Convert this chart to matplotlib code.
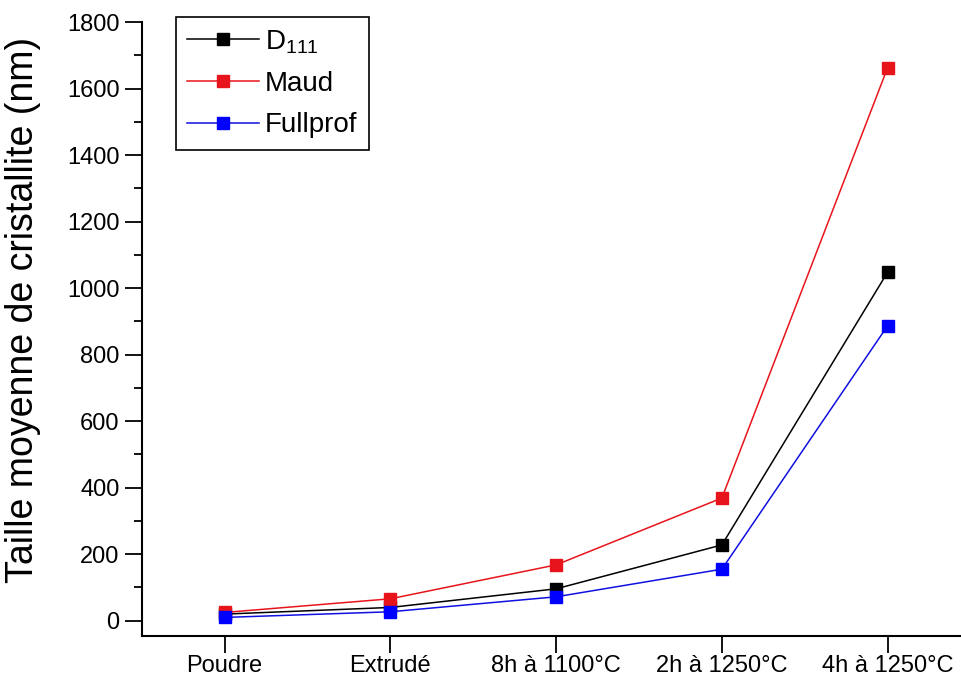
import numpy as np
import matplotlib
matplotlib.use("Agg")
import matplotlib.pyplot as plt

plt.rcParams['font.family'] = ['Liberation Sans', 'DejaVu Sans']
plt.rcParams['mathtext.fontset'] = 'custom'
plt.rcParams['mathtext.rm'] = 'Liberation Sans'

categories = ['Poudre', 'Extrudé', '8h à 1100°C', '2h à 1250°C', '4h à 1250°C']
d111 = [20, 40, 96, 228, 1048]
maud = [25, 66, 168, 369, 1663]
fullprof = [10, 27, 72, 155, 887]

fig = plt.figure(figsize=(9.61, 6.81), dpi=100)
ax = fig.add_axes([0.1475, 0.066, 0.8624, 0.9016])

X = np.arange(len(categories))
ax.plot(X, d111, color='black', lw=1.1, marker='s', ms=8.5, label='D$_{111}$')
ax.plot(X, maud, color='#e8141b', lw=1.1, marker='s', ms=8.5, label='Maud')
ax.plot(X, fullprof, color='#1010e0', lw=1.1, marker='s', ms=8.5,
        mec='#0000ff', mfc='#0000ff', label='Fullprof')

ax.set_xlim(-0.5, 4.5)
ax.set_ylim(-46, 1800)
ax.set_xticks(X)
ax.set_xticklabels(categories)
ax.set_yticks(np.arange(0, 1801, 200))
ax.set_yticks(np.arange(100, 1800, 200), minor=True)
ax.tick_params(axis='both', which='major', direction='out', length=12, width=1.3,
               labelsize=17, pad=4)
ax.tick_params(axis='y', which='minor', direction='out', length=6, width=1.3)
ax.tick_params(axis='x', which='major', pad=2)
for s in ['top', 'right']:
    ax.spines[s].set_visible(False)
for s in ['left', 'bottom']:
    ax.spines[s].set_linewidth(1.5)

ax.set_ylabel('Taille moyenne de cristallite (nm)', fontsize=27)
ax.yaxis.set_label_coords(-0.122, 0.531)

leg = ax.legend(loc='upper left', bbox_to_anchor=(176 / 961, 1 - 17 / 681),
                bbox_transform=fig.transFigure, borderaxespad=0, fontsize=20,
                fancybox=False, edgecolor='black', framealpha=1,
                handlelength=2.6, handletextpad=0.2, labelspacing=0.55,
                borderpad=0.4)
leg.get_frame().set_linewidth(1.2)

plt.savefig('out.png', dpi=100)
